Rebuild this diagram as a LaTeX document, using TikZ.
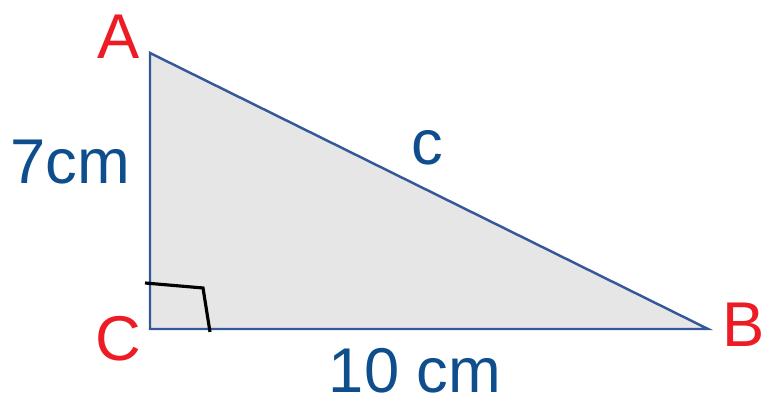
\documentclass[tikz,border=0pt]{standalone}
\usepackage{fontspec}
\setmainfont{Liberation Sans}
\definecolor{trired}{HTML}{ED1C24}
\definecolor{triblue}{HTML}{0F4E8C}
\definecolor{triedge}{HTML}{34589A}
\definecolor{trifill}{HTML}{E6E6E6}
\begin{document}
\begin{tikzpicture}[font=\fontsize{18}{22}\selectfont]
    \useasboundingbox (0,0) rectangle (7.67,4.05);
    \coordinate (A) at (1.50,3.52);
    \coordinate (C) at (1.50,0.76);
    \coordinate (B) at (7.08,0.76);
    \draw[triedge,line width=0.7pt,fill=trifill] (A) -- (C) -- (B) -- cycle;
    \draw[black,line width=0.9pt] (1.45,1.22) -- (2.03,1.17) -- (2.10,0.73);
    \node[trired] (lA) at (1.19,3.68) {A};
    \node[trired] (lC) at (1.18,0.66) {C};
    \node[trired] (lB) at (7.44,0.80) {B};
    \node[triblue] (lAC) at (0.70,2.43) {7cm};
    \node[triblue] (lAB) at (4.27,2.57) {c};
    \node[triblue] (lCB) at (4.15,0.34) {10 cm};
  \end{tikzpicture}
\end{document}
